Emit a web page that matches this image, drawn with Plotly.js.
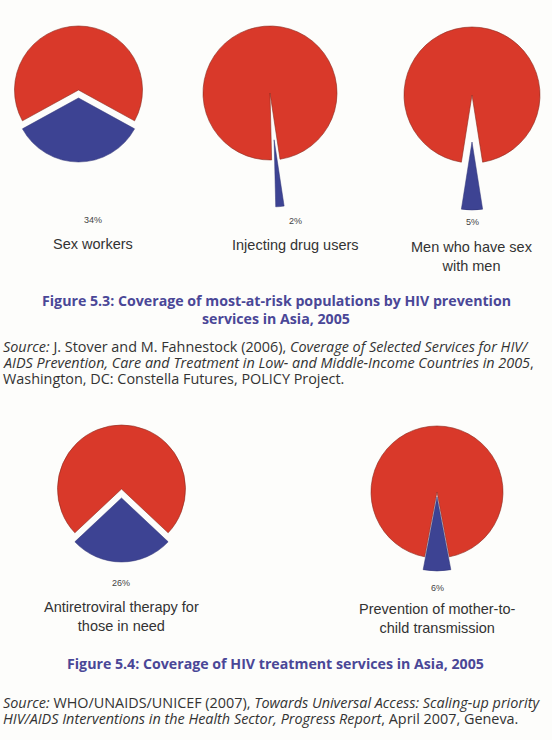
<!DOCTYPE html>
<html>
<head>
<meta charset="utf-8">
<script src="https://cdn.plot.ly/plotly-3.0.1.min.js"></script>
<style>html,body{margin:0;padding:0;background:#fdfdfb;}#chart{width:552px;height:740px;}</style>
</head>
<body>
<div id="chart"></div>
<script>
// ---- Data ----
var categories1 = ['Sex workers', 'Injecting drug users', 'Men who have sex<br>with men'];
var coverage1 = [34, 2, 5];
var categories2 = ['Antiretroviral therapy for<br>those in need', 'Prevention of mother-to-<br>child transmission'];
var coverage2 = [26, 6];
var sliceNames = ['Covered', 'Not covered'];
var title1 = ['Figure 5.3: Coverage of most-at-risk populations by HIV prevention', 'services in Asia, 2005'];
var title2 = ['Figure 5.4: Coverage of HIV treatment services in Asia, 2005'];
var source1 = [
  '<i>Source:</i> J. Stover and M. Fahnestock (2006), <i>Coverage of Selected Services for HIV/</i>',
  '<i>AIDS Prevention, Care and Treatment in Low- and Middle-Income Countries in 2005</i>,',
  'Washington, DC: Constella Futures, POLICY Project.'
];
var source2 = [
  '<i>Source:</i> WHO/UNAIDS/UNICEF (2007), <i>Towards Universal Access: Scaling-up priority</i>',
  '<i>HIV/AIDS Interventions in the Health Sector, Progress Report</i>, April 2007, Geneva.'
];

// ---- Layout / style (pixel positions) ----
var W = 552, H = 740;
var RED = '#d9392a', BLUE = '#3d4393', CLEAR = 'rgba(0,0,0,0)';
var pies1 = [
  {cx: 78.5, cy: 90, r: 64, br: 64, off: 8, ang: 180, lx: 93, pctY: 220, labY: 244},
  {cx: 270, cy: 93, r: 67, br: 67, off: 47, ang: 175, lx: 295, pctY: 221, labY: 245},
  {cx: 472, cy: 95, r: 68, br: 68, off: 47, ang: 180, lx: 472, pctY: 222, labY: 256}
];
var pies2 = [
  {cx: 121.5, cy: 489, r: 64, br: 64, off: 9, ang: 180, lx: 121, pctY: 583, labY: 616},
  {cx: 437, cy: 492, r: 66, br: 74, off: 5, ang: 180, lx: 437, pctY: 588, labY: 618}
];

function dom(cx, cy, r) {
  return {x: [(cx - r) / W, (cx + r) / W], y: [1 - (cy + r) / H, 1 - (cy - r) / H]};
}

var traces = [];
var annotations = [];
function px(x) { return x / W; }
function py(y) { return 1 - y / H; }

function addPie(cov, p, label) {
  var vals = [cov, 100 - cov];
  var rot = p.ang - cov * 3.6 / 2;
  // remaining (red) part, centred on the pie centre
  traces.push({
    type: 'pie', values: vals, labels: sliceNames, sort: false, direction: 'clockwise',
    rotation: rot, domain: dom(p.cx, p.cy, p.r), textinfo: 'none', hoverinfo: 'label+percent',
    showlegend: false,
    marker: {colors: [CLEAR, RED], line: {color: [CLEAR, '#8c2a1e'], width: 0.6}}
  });
  // covered (blue) part, exploded along its bisector
  var a = p.ang * Math.PI / 180;
  var bx = p.cx + p.off * Math.sin(a), by = p.cy - p.off * Math.cos(a);
  traces.push({
    type: 'pie', values: vals, labels: sliceNames, sort: false, direction: 'clockwise',
    rotation: rot, domain: dom(bx, by, p.br), textinfo: 'none', hoverinfo: 'label+percent',
    showlegend: false,
    marker: {colors: [BLUE, CLEAR], line: {color: ['#2e3275', CLEAR], width: 0.5}}
  });
  annotations.push({text: cov + '%', x: px(p.lx), y: py(p.pctY), xref: 'paper', yref: 'paper',
    showarrow: false, xanchor: 'center', yanchor: 'middle',
    font: {family: 'Liberation Sans, Arial, sans-serif', size: 9, color: '#444'}});
  annotations.push({text: label, x: px(p.lx), y: py(p.labY), xref: 'paper', yref: 'paper',
    showarrow: false, xanchor: 'center', yanchor: 'middle', align: 'center',
    font: {family: 'Liberation Sans, Arial, sans-serif', size: 14.5, color: '#333'}});
}

for (var i = 0; i < coverage1.length; i++) addPie(coverage1[i], pies1[i], categories1[i]);
for (var j = 0; j < coverage2.length; j++) addPie(coverage2[j], pies2[j], categories2[j]);

var titleFont = {family: 'Open Sans, sans-serif', size: 14.2, color: '#4a4797', weight: 'bold'};
var srcFont = {family: 'Open Sans, sans-serif', size: 14.4, color: '#333'};
function addText(t, x, y, anchor, font) {
  annotations.push({text: t, x: px(x), y: py(y), xref: 'paper', yref: 'paper', showarrow: false,
    xanchor: anchor, yanchor: 'middle', align: anchor === 'left' ? 'left' : 'center', font: font});
}
addText('<b>' + title1[0] + '</b>', 276, 301, 'center', titleFont);
addText('<b>' + title1[1] + '</b>', 276, 318, 'center', titleFont);
addText('<b>' + title2[0] + '</b>', 275, 663, 'center', titleFont);
var s1y = [346, 362, 378];
for (var k = 0; k < source1.length; k++) addText(source1[k], 1, s1y[k], 'left', srcFont);
var s2y = [702, 718];
for (var m = 0; m < source2.length; m++) addText(source2[m], 1, s2y[m], 'left', srcFont);

var layout = {
  width: W, height: H,
  margin: {l: 0, r: 0, t: 0, b: 0, pad: 0},
  paper_bgcolor: '#fdfdfb', plot_bgcolor: '#fdfdfb',
  showlegend: false,
  annotations: annotations
};
Plotly.newPlot('chart', traces, layout, {displayModeBar: false, staticPlot: true});
</script>
</body>
</html>
